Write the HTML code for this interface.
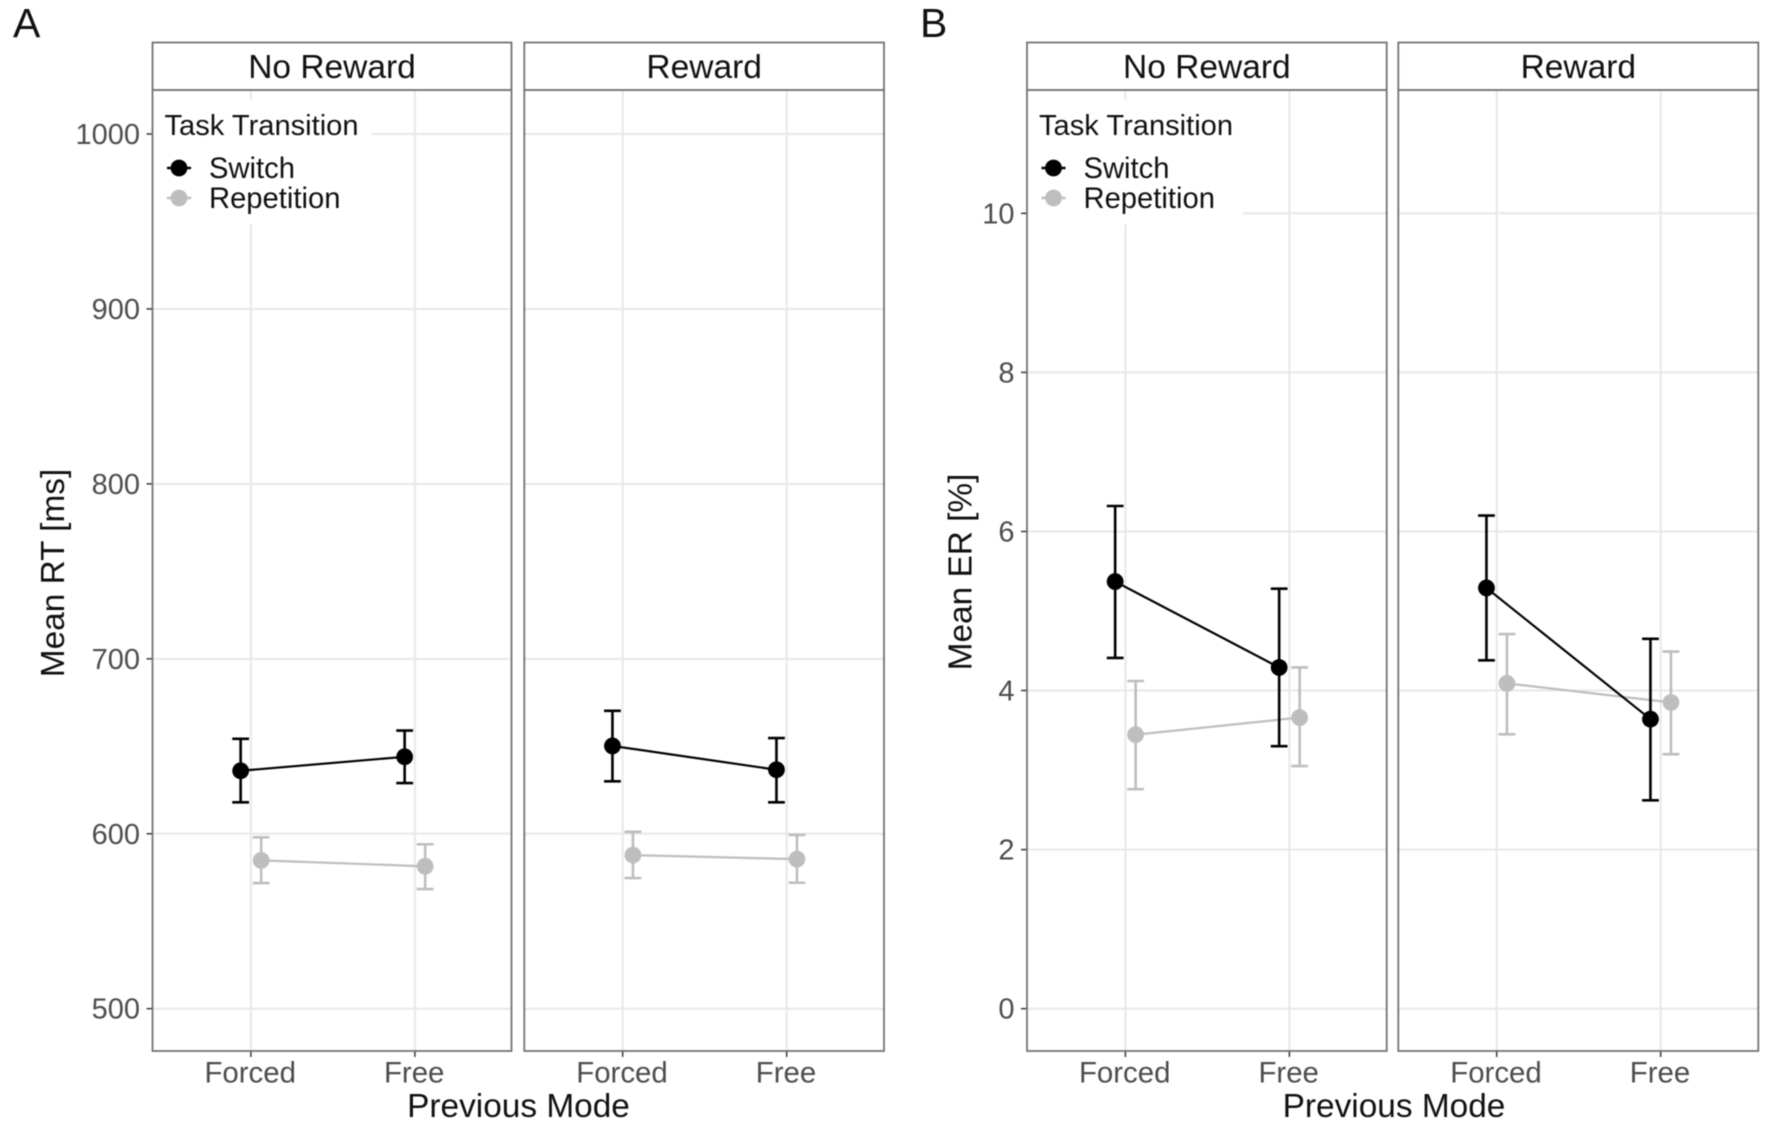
<!DOCTYPE html>
<html lang="en">
<head>
<meta charset="utf-8">
<title>Mean RT and ER by previous mode</title>
<style>
html,body{margin:0;padding:0;background:#fff;width:1770px;height:1131px;overflow:hidden}
svg{display:block;filter:blur(0.6px);font-family:"Liberation Sans",Arial,sans-serif}
</style>
</head>
<body>
<svg id="figure" xmlns="http://www.w3.org/2000/svg" width="1770" height="1131" viewBox="0 0 1770 1131"></svg>
<script>
// ---- Data ----
const categories = ['Forced', 'Free'];
const facetNames = ['No Reward', 'Reward'];
const seriesNames = ['Switch', 'Repetition'];
const rtTicks = [500, 600, 700, 800, 900, 1000];
const erTicks = [0, 2, 4, 6, 8, 10];

const rtNoRewardSwitchMean = [636, 644];
const rtNoRewardSwitchLow = [618, 629];
const rtNoRewardSwitchHigh = [654.3, 659];
const rtNoRewardRepetitionMean = [584.8, 581.4];
const rtNoRewardRepetitionLow = [571.8, 568.4];
const rtNoRewardRepetitionHigh = [598, 594];

const rtRewardSwitchMean = [650.2, 636.6];
const rtRewardSwitchLow = [630, 618];
const rtRewardSwitchHigh = [670.3, 654.7];
const rtRewardRepetitionMean = [587.8, 585.5];
const rtRewardRepetitionLow = [574.7, 572];
const rtRewardRepetitionHigh = [601.1, 599.3];

const erNoRewardSwitchMean = [5.37, 4.29];
const erNoRewardSwitchLow = [4.41, 3.30];
const erNoRewardSwitchHigh = [6.32, 5.28];
const erNoRewardRepetitionMean = [3.445, 3.66];
const erNoRewardRepetitionLow = [2.76, 3.05];
const erNoRewardRepetitionHigh = [4.12, 4.29];

const erRewardSwitchMean = [5.29, 3.64];
const erRewardSwitchLow = [4.38, 2.62];
const erRewardSwitchHigh = [6.20, 4.65];
const erRewardRepetitionMean = [4.09, 3.85];
const erRewardRepetitionLow = [3.45, 3.20];
const erRewardRepetitionHigh = [4.71, 4.49];

// ---- Layout and axis functions ----
const svg = document.getElementById('figure');
const NS = 'http://www.w3.org/2000/svg';
const STRIP_TOP = 42.5, PANEL_TOP = 90, PANEL_BOTTOM = 1051;
const BASE_Y = 1008.7;
const SWITCH_COLOR = '#000000', REPETITION_COLOR = '#bebebe', GRID = '#e8e8e8', BORDER = '#737373', TICK_TEXT = '#4d4d4d';

function yRT(v) { return BASE_Y - (v - 500) * (BASE_Y - 134) / 500; }
function yER(v) { return BASE_Y - v * (BASE_Y - 213.3) / 10; }
function xCat(panelLeft, i, dodge) {
  const unit = 164;
  return panelLeft + unit * (0.6 + i + dodge);
}

function make(tag, attrs, parent) {
  const node = document.createElementNS(NS, tag);
  for (const k in attrs) node.setAttribute(k, attrs[k]);
  (parent || svg).appendChild(node);
  return node;
}
function label(str, x, y, size, fill, anchor, parent, rotate) {
  const attrs = { x: x, y: y, 'font-size': size, fill: fill, 'text-anchor': anchor || 'start' };
  if (rotate) attrs.transform = 'rotate(-90 ' + x + ' ' + y + ')';
  const t = make('text', attrs, parent);
  t.textContent = str;
  return t;
}

function drawSeries(group, panelLeft, y, mean, low, high, color, dodge, seriesKey) {
  const line = make('line', {
    x1: xCat(panelLeft, 0, dodge), y1: y(mean[0]),
    x2: xCat(panelLeft, 1, dodge), y2: y(mean[1]),
    stroke: color, 'stroke-width': 2.2
  }, group);
  
  
  mean.forEach(function (m, i) {
    const cx = xCat(panelLeft, i, dodge);
    const bar = make('path', {
      d: 'M' + (cx - 8.4) + ' ' + y(high[i]) + 'H' + (cx + 8.4) +
         'M' + cx + ' ' + y(high[i]) + 'V' + y(low[i]) +
         'M' + (cx - 8.4) + ' ' + y(low[i]) + 'H' + (cx + 8.4),
      stroke: color, 'stroke-width': 2.6, fill: 'none'
    }, group);
    
    
    const dot = make('circle', { cx: cx, cy: y(m), r: 8.4, fill: color }, group);
    
    
  });
}

function drawLegend(left, boxWidth) {
  const g = make('g', {});
  
  
  const bg = make('rect', { x: left + 1, y: 100, width: boxWidth, height: 124, fill: '#ffffff' }, g);
  
  
  const title = label('Task Transition', left + 12, 135, 29.1, '#111111', 'start', g);
  
  
  const colors = [SWITCH_COLOR, REPETITION_COLOR];
  const rows = [168, 198];
  seriesNames.forEach(function (name, i) {
    const cx = left + 26.5, cy = rows[i];
    const k1 = make('line', { x1: cx - 12, y1: cy, x2: cx + 12, y2: cy, stroke: colors[i], 'stroke-width': 2.4 }, g);
    
    
    const k2 = make('circle', { cx: cx, cy: cy, r: 8.4, fill: colors[i] }, g);
    
    
    const lb = label(name, left + 56.5, cy + 10, 29.2, '#111111', 'start', g);
    
    
  });
}

function drawFacet(left, right, name, ticks, y, data, withAxis, legendWidth) {
  const g = make('g', {});
  
  

  ticks.forEach(function (t) {
    const gl = make('line', { x1: left, x2: right, y1: y(t), y2: y(t), stroke: GRID, 'stroke-width': 2 }, g);
    
    
    if (withAxis) {
      const tk = make('line', { x1: left - 6, x2: left, y1: y(t), y2: y(t), stroke: '#444444', 'stroke-width': 1.6 }, g);
      
      
      const tl = label(String(t), left - 12.5, y(t) + 10, 29, TICK_TEXT, 'end', g);
      
      
    }
  });
  categories.forEach(function (c, i) {
    const x = xCat(left, i, 0);
    const gl = make('line', { x1: x, x2: x, y1: PANEL_TOP, y2: PANEL_BOTTOM, stroke: GRID, 'stroke-width': 2 }, g);
    
    
    const tk = make('line', { x1: x, x2: x, y1: PANEL_BOTTOM, y2: PANEL_BOTTOM + 6, stroke: '#444444', 'stroke-width': 1.6 }, g);
    
    
    const tl = label(c, x - 0.7, 1082.7, 29.4, TICK_TEXT, 'middle', g);
    
    
  });

  if (legendWidth) drawLegend(left, legendWidth);

  const marks = make('g', {}, g);
  
  
  drawSeries(marks, left, y, data.repMean, data.repLow, data.repHigh, REPETITION_COLOR, 0.0625, 'repetition');
  drawSeries(marks, left, y, data.swMean, data.swLow, data.swHigh, SWITCH_COLOR, -0.0625, 'switch');

  const border = make('rect', { x: left, y: PANEL_TOP, width: right - left, height: PANEL_BOTTOM - PANEL_TOP, fill: 'none', stroke: BORDER, 'stroke-width': 1.8 }, g);
  
  
  const strip = make('rect', { x: left, y: STRIP_TOP, width: right - left, height: PANEL_TOP - STRIP_TOP, fill: '#ffffff', stroke: BORDER, 'stroke-width': 1.8 }, g);
  
  
  const st = label(name, (left + right) / 2, 78, 33.5, '#111111', 'middle', g);
  
  
}

// ---- Panel A: RT ----
drawFacet(152.5, 511.5, facetNames[0], rtTicks, yRT, {
  swMean: rtNoRewardSwitchMean, swLow: rtNoRewardSwitchLow, swHigh: rtNoRewardSwitchHigh,
  repMean: rtNoRewardRepetitionMean, repLow: rtNoRewardRepetitionLow, repHigh: rtNoRewardRepetitionHigh
}, true, 217.5);
drawFacet(524.3, 884, facetNames[1], rtTicks, yRT, {
  swMean: rtRewardSwitchMean, swLow: rtRewardSwitchLow, swHigh: rtRewardSwitchHigh,
  repMean: rtRewardRepetitionMean, repLow: rtRewardRepetitionLow, repHigh: rtRewardRepetitionHigh
}, false, 0);

// ---- Panel B: ER ----
drawFacet(1027, 1386.7, facetNames[0], erTicks, yER, {
  swMean: erNoRewardSwitchMean, swLow: erNoRewardSwitchLow, swHigh: erNoRewardSwitchHigh,
  repMean: erNoRewardRepetitionMean, repLow: erNoRewardRepetitionLow, repHigh: erNoRewardRepetitionHigh
}, true, 214.5);
drawFacet(1398.3, 1758.3, facetNames[1], erTicks, yER, {
  swMean: erRewardSwitchMean, swLow: erRewardSwitchLow, swHigh: erRewardSwitchHigh,
  repMean: erRewardRepetitionMean, repLow: erRewardRepetitionLow, repHigh: erRewardRepetitionHigh
}, false, 0);

// ---- Titles ----
const tagA = label('A', 13, 37, 41, '#111111', 'start');


const tagB = label('B', 920, 37, 41, '#111111', 'start');


const xTitleA = label('Previous Mode', 518.5, 1117, 33.4, '#111111', 'middle');


const xTitleB = label('Previous Mode', 1394, 1117, 33.4, '#111111', 'middle');


const yTitleA = label('Mean RT [ms]', 64, 573, 33.4, '#111111', 'middle', svg, true);


const yTitleB = label('Mean ER [%]', 971.5, 572, 33.4, '#111111', 'middle', svg, true);


</script>
</body>
</html>
